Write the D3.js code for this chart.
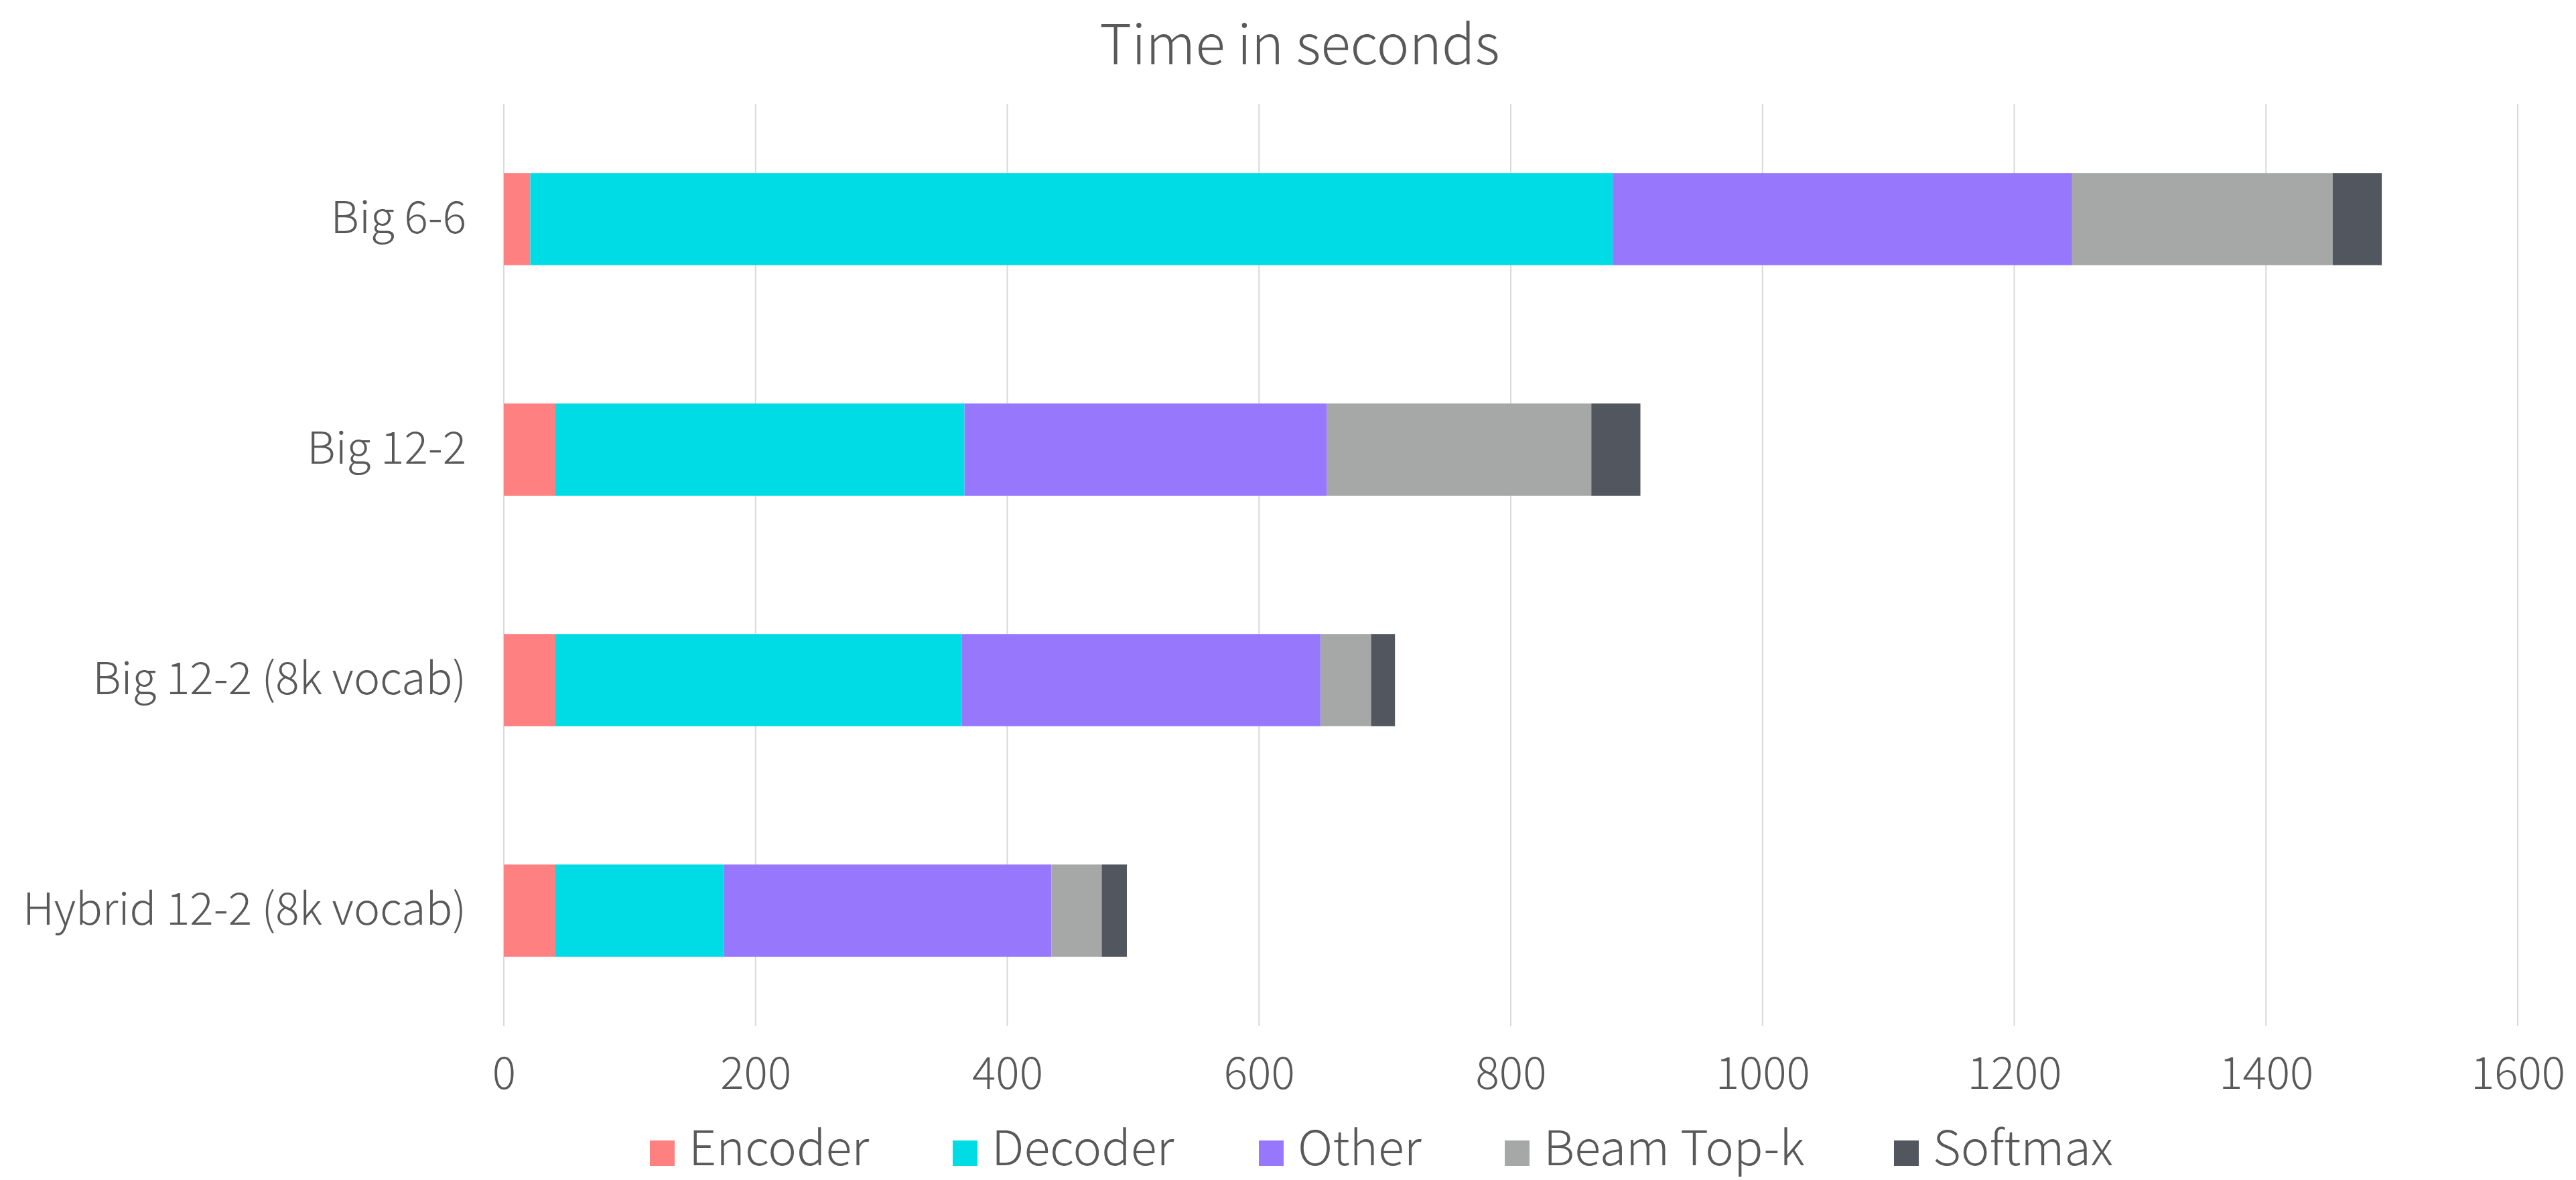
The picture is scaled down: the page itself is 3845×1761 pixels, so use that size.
<!DOCTYPE html>
<html>
<head>
<meta charset="utf-8">
<script src="https://cdn.jsdelivr.net/npm/d3@7"></script>
<style>
  html, body { margin: 0; padding: 0; background: #ffffff; }
  svg text { font-family: "Noto Sans CJK KR", "Noto Sans", sans-serif; fill: #595959; }
</style>
</head>
<body>
<svg id="chart" width="3845" height="1761"></svg>
<script>
// Model variants (top to bottom)
const categories = ["Big 6-6", "Big 12-2", "Big 12-2 (8k vocab)", "Hybrid 12-2 (8k vocab)"];

// Stacked components, in drawing order
const seriesNames = ["Encoder", "Decoder", "Other", "Beam Top-k", "Softmax"];

// Time in seconds per component, one value per category
const encoder  = [21, 41, 41, 41];
const decoder  = [860, 325, 323, 134];
const other    = [365, 288, 285, 260];
const beamTopK = [207, 210, 40, 40];
const softmax  = [39, 39, 19, 20];

const xTicks = [0, 200, 400, 600, 800, 1000, 1200, 1400, 1600];
const colors = ["#ff8080", "#00dce5", "#9778fd", "#a5a8a7", "#52565e"];

const rows = categories.map((c, i) => ({
  category: c,
  "Encoder": encoder[i],
  "Decoder": decoder[i],
  "Other": other[i],
  "Beam Top-k": beamTopK[i],
  "Softmax": softmax[i]
}));

const svg = d3.select("#chart");
const margin = { left: 752, right: 87, top: 155, bottom: 230 };
const W = 3845, H = 1761;
const plotW = W - margin.left - margin.right;
const plotH = H - margin.top - margin.bottom;

const x = d3.scaleLinear().domain([0, 1600]).range([0, plotW]);
const y = d3.scaleBand().domain(categories).range([0, plotH]).paddingInner(0.6).paddingOuter(0.3);
const color = d3.scaleOrdinal().domain(seriesNames).range(colors);

const g = svg.append("g").attr("transform", `translate(${margin.left},${margin.top})`);

// Vertical gridlines
g.append("g")
  .selectAll("line")
  .data(xTicks)
  .join("line")
  .attr("x1", d => x(d)).attr("x2", d => x(d))
  .attr("y1", 0).attr("y2", plotH)
  .attr("stroke", "#d9d9d9")
  .attr("stroke-width", 2);

// Stacked bars
const stacked = d3.stack().keys(seriesNames)(rows);
g.append("g")
  .selectAll("g")
  .data(stacked)
  .join("g")
  .attr("fill", d => color(d.key))
  .selectAll("rect")
  .data(d => d)
  .join("rect")
  .attr("x", d => x(d[0]))
  .attr("width", d => x(d[1]) - x(d[0]))
  .attr("y", d => y(d.data.category))
  .attr("height", y.bandwidth());

// X axis tick labels
const xAxis = d3.axisBottom(x).tickValues(xTicks).tickSize(0).tickPadding(0).tickFormat(d3.format("d"));
const xg = g.append("g").attr("transform", `translate(0,${plotH})`).call(xAxis);
xg.select(".domain").remove();
xg.selectAll("text")
  .attr("y", 94).attr("dy", null)
  .attr("font-size", 66)
  .attr("font-weight", 300)
  .style("font-family", "\"Noto Sans CJK KR\", sans-serif")
  .attr("fill", "#595959");

// Y axis category labels
const yAxis = d3.axisLeft(y).tickSize(0).tickPadding(56);
const yg = g.append("g").call(yAxis);
yg.select(".domain").remove();
yg.selectAll("text")
  .attr("dy", null)
  .attr("y", 21)
  .attr("font-size", 66)
  .attr("font-weight", 300)
  .style("font-family", "\"Noto Sans CJK KR\", sans-serif")
  .attr("fill", "#595959");

// Title
svg.append("text")
  .attr("x", 1940).attr("y", 96)
  .attr("text-anchor", "middle")
  .attr("font-size", 82)
  .attr("font-weight", 300)
  .text("Time in seconds");

// Legend
const legendX = [970, 1422, 1879, 2246, 2827];
const legend = svg.append("g").attr("transform", "translate(0,1702)");
const items = legend.selectAll("g")
  .data(seriesNames)
  .join("g")
  .attr("transform", (d, i) => `translate(${legendX[i]},0)`);
items.append("rect")
  .attr("width", 37).attr("height", 38)
  .attr("fill", d => color(d));
items.append("text")
  .attr("x", 58).attr("y", 37)
  .attr("font-size", 72)
  .attr("font-weight", 300)
  .text(d => d);
</script>
</body>
</html>
